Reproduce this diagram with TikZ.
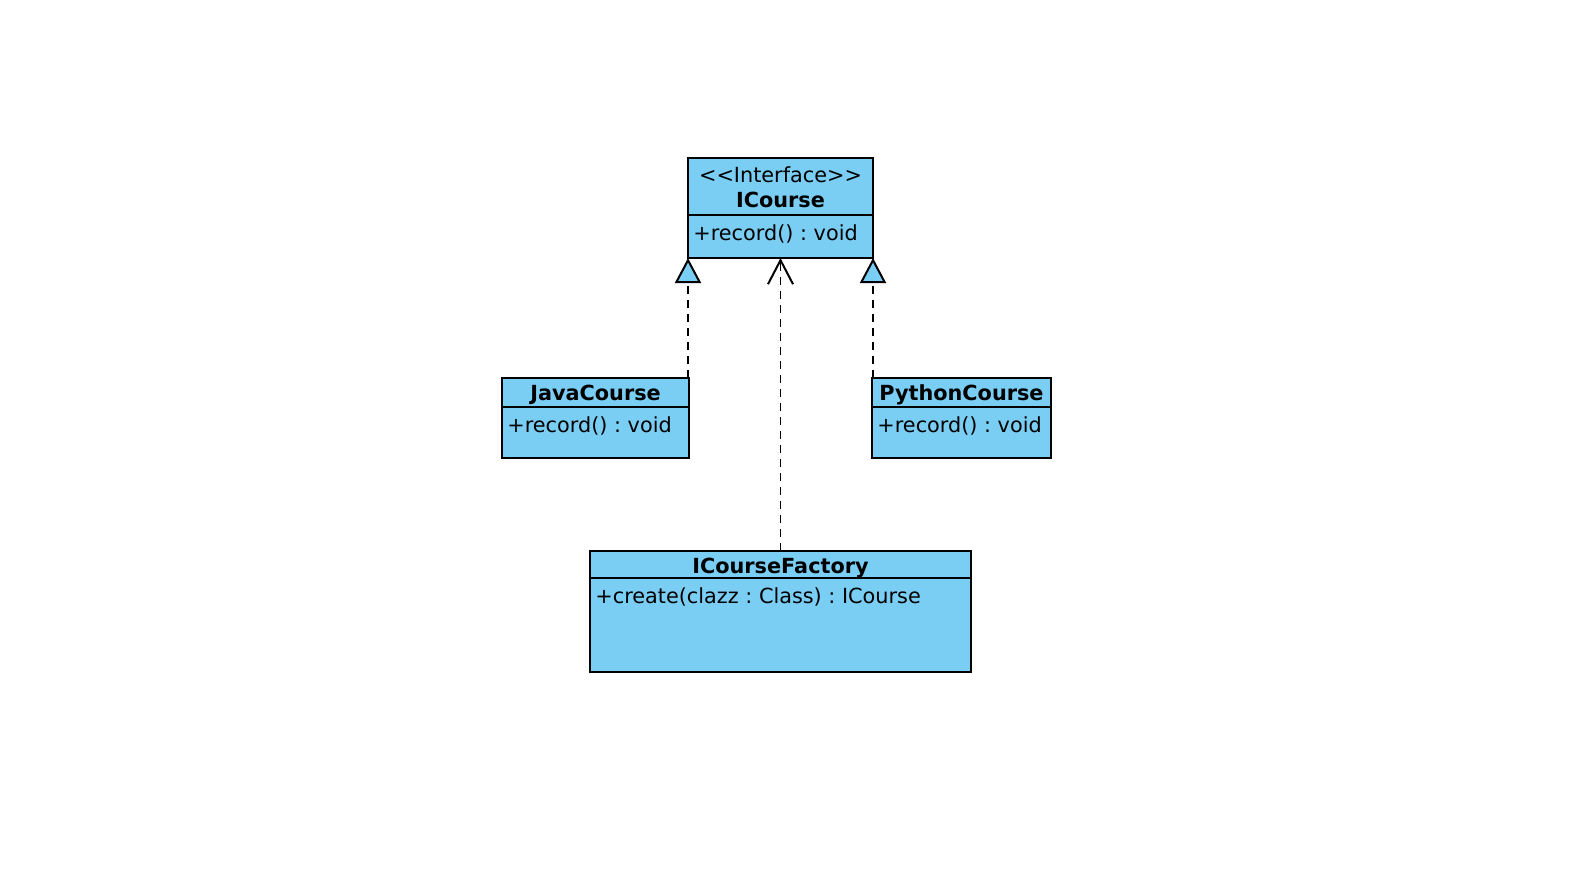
\documentclass[tikz,border=0pt]{standalone}
\usepackage{fontspec}
\setmainfont{DejaVu Sans}
\usetikzlibrary{arrows.meta}
\definecolor{umlblue}{RGB}{122,206,244}
\frenchspacing
\begin{document}
\begin{tikzpicture}[x=0.5pt,y=-0.5pt,
  classbox/.style={draw=black,fill=umlblue,line width=1pt,rectangle,inner sep=0pt,outer sep=0pt,anchor=north west},
  title/.style={font=\fontsize{10.4}{12}\selectfont\bfseries,anchor=base,inner sep=0pt},
  stereo/.style={font=\fontsize{10.4}{12}\selectfont,anchor=base,inner sep=0pt},
  member/.style={font=\fontsize{10.4}{12}\selectfont,anchor=base west,inner sep=0pt},
  divider/.style={line width=1pt},
  realize/.style={dashed,dash pattern=on 4pt off 3pt,line width=0.9pt,
    -{Triangle[length=12.5pt,width=13pt,fill=umlblue,line width=1pt]}},
  depend/.style={dashed,dash pattern=on 4pt off 3pt,line width=0.9pt,
    -{Straight Barb[length=12pt,width=12.5pt,line width=1pt]}}]
\useasboundingbox (0,0) rectangle (1582,884);

% interface ICourse
\node[classbox,minimum width=92.5pt,minimum height=50pt] (icourse) at (688,158) {};
\draw[divider] (688,215) -- (873,215);
\node[stereo] (icstereo) at (780.5,182) {{<}{<}Interface{>}{>}};
\node[title] (ictitle) at (780.5,207) {ICourse};
\node[member] (icrecord) at (693,240) {+record() : void};

% class JavaCourse
\node[classbox,minimum width=93.5pt,minimum height=40pt] (java) at (502,378) {};
\draw[divider] (502,407) -- (689,407);
\node[title] (jtitle) at (595.5,400) {JavaCourse};
\node[member] (jrecord) at (507,432) {+record() : void};

% class PythonCourse
\node[classbox,minimum width=89.5pt,minimum height=40pt] (python) at (872,378) {};
\draw[divider] (872,407) -- (1051,407);
\node[title] (ptitle) at (961.5,400) {PythonCourse};
\node[member] (precord) at (877,432) {+record() : void};

% class ICourseFactory
\node[classbox,minimum width=190.5pt,minimum height=60.5pt] (factory) at (590,551) {};
\draw[divider] (590,578) -- (971,578);
\node[title] (ftitle) at (780.5,573) {ICourseFactory};
\node[member] (fcreate) at (595,603) {+create(clazz : Class) : ICourse};

% relations
\draw[realize] (icourse.south west |- java.north) -- (icourse.south west);
\draw[realize] (icourse.south east |- python.north) -- (icourse.south east);
\draw[depend] (factory.north) -- (icourse.south);
\end{tikzpicture}
\end{document}
